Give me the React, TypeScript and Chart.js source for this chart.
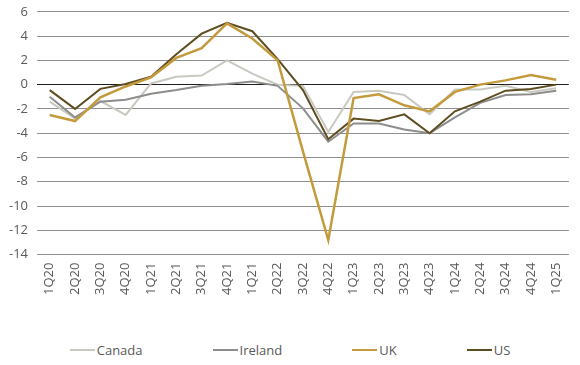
import React, { useEffect, useRef } from "react";
import { Chart, registerables } from "chart.js";

Chart.register(...registerables);

const labels = ["1Q20","2Q20","3Q20","4Q20","1Q21","2Q21","3Q21","4Q21","1Q21","2Q22","3Q22","4Q22","1Q23","2Q23","3Q23","4Q23","1Q24","2Q24","3Q24","4Q24","1Q25"];
const canada = [-1.4, -2.8, -1.35, -2.5, 0.1, 0.65, 0.75, 2.0, 0.9, 0.0, -0.1, -3.9, -0.6, -0.5, -0.85, -2.45, -0.4, -0.4, -0.1, -0.6, -0.3];
const ireland = [-1.0, -2.7, -1.4, -1.25, -0.75, -0.45, -0.1, 0.05, 0.25, -0.1, -1.95, -4.7, -3.2, -3.2, -3.7, -4.0, -2.7, -1.5, -0.85, -0.8, -0.5];
const uk = [-2.5, -3.0, -1.05, -0.15, 0.6, 2.2, 3.0, 5.05, 3.8, 2.0, -5.5, -12.8, -1.1, -0.8, -1.7, -2.2, -0.6, 0.0, 0.35, 0.8, 0.4];
const us = [-0.45, -2.0, -0.35, 0.05, 0.65, 2.5, 4.2, 5.1, 4.4, 2.1, -0.45, -4.5, -2.8, -3.0, -2.45, -4.0, -2.2, -1.4, -0.5, -0.35, 0.0];

const seriesNames = ["Canada", "Ireland", "UK", "US"];
const seriesColors = ["#c9c9c1", "#8d8d8b", "#c39b3c", "#5e4d21"];
const seriesWidths = [2, 2, 2.5, 2];
const seriesOrder = [4, 3, 1, 2];
const seriesData = [canada, ireland, uk, us];

const FONT = "'Open Sans', sans-serif";
const TEXT = "#595959";

export default function App() {
  const ref = useRef<HTMLCanvasElement | null>(null);

  useEffect(() => {
    document.body.style.margin = "0";
    if (!ref.current) return;
    const chart = new Chart(ref.current, {
      type: "line",
      data: {
        labels,
        datasets: seriesData.map((d, i) => ({
          label: seriesNames[i],
          data: d,
          borderColor: seriesColors[i],
          backgroundColor: seriesColors[i],
          borderWidth: seriesWidths[i],
          pointRadius: 0,
          tension: 0,
          fill: false,
          order: seriesOrder[i],
        })),
      },
      options: {
        animation: false,
        responsive: false,
        layout: { padding: { left: 0, right: 8, top: 0, bottom: 0 } },
        plugins: { legend: { display: false }, tooltip: { enabled: false } },
        scales: {
          x: {
            offset: true,
            grid: { display: false, drawTicks: false },
            border: { display: false },
            ticks: {
              autoSkip: false,
              minRotation: 90,
              maxRotation: 90,
              padding: 8,
              color: TEXT,
              font: { family: FONT, size: 13 },
            },
          },
          y: {
            min: -14,
            max: 6,
            grid: {
              drawTicks: false,
              color: (ctx: any) => (ctx.tick && ctx.tick.value === 0 ? "#1e1e1e" : "#8f8f8f"),
              lineWidth: 1,
            },
            border: { display: false },
            ticks: {
              stepSize: 2,
              padding: 9,
              color: TEXT,
              font: { family: FONT, size: 13 },
            },
          },
        },
      },
    });
    return () => chart.destroy();
  }, []);

  return (
    <div style={{ position: "absolute", left: 0, top: 0, width: 580, height: 365, background: "#fff", overflow: "hidden" }}>
      <canvas ref={ref} width={580} height={308} style={{ display: "block", position: "absolute", left: 0, top: -5 }} />
      <div
        style={{
          position: "absolute",
          top: 341,
          left: 0,
          width: 580,
          display: "flex",
          justifyContent: "center",
          gap: 70,
          fontFamily: FONT,
          fontSize: 13,
          color: TEXT,
          lineHeight: "18px",
        }}
      >
        {seriesNames.map((n, i) => (
          <div key={n} style={{ display: "flex", alignItems: "center" }}>
            <span style={{ display: "inline-block", width: 25, height: 2, background: seriesColors[i], marginRight: 2 }} />
            <span>{n}</span>
          </div>
        ))}
      </div>
    </div>
  );
}
